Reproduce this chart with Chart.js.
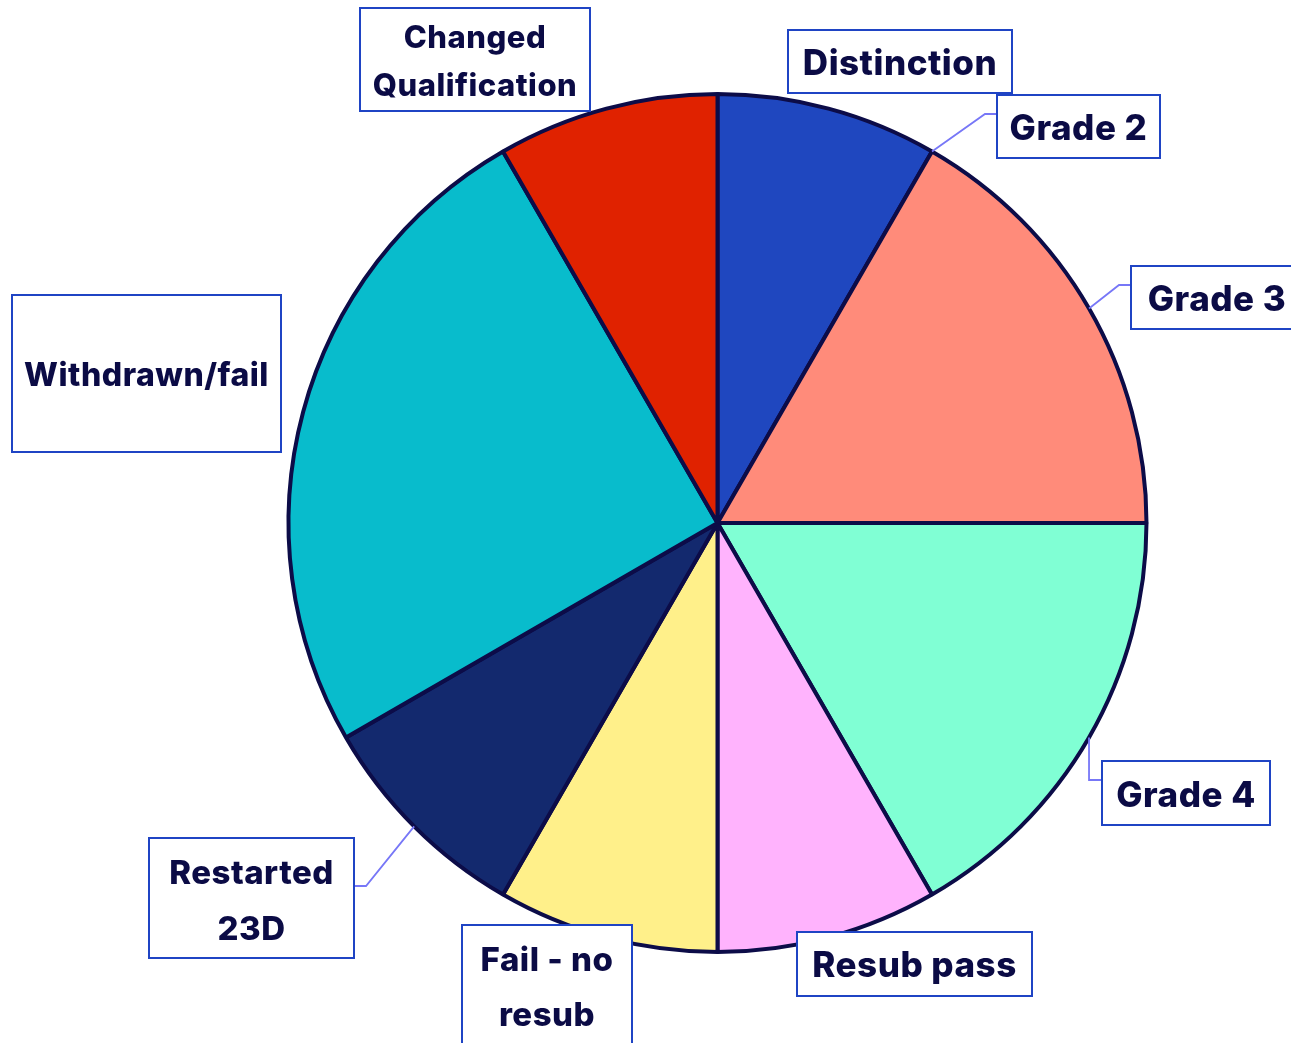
<!DOCTYPE html>
<html>
<head>
<meta charset="utf-8">
<script src="https://cdn.jsdelivr.net/npm/chart.js@4/dist/chart.umd.min.js"></script>
<style>
  html, body { margin: 0; padding: 0; background: #ffffff; }
  #wrap { width: 1291px; height: 1043px; position: relative; }
</style>
</head>
<body>
<div id="wrap"><canvas id="c"></canvas></div>
<script>
// ---- data ----
const categories = ["Distinction", "Grade 2", "Grade 3", "Grade 4", "Resub pass",
  "Fail - no resub", "Restarted 23D", "Withdrawn/fail", "Changed Qualification"];
const counts = [1, 0, 2, 2, 1, 1, 1, 3, 1];
const sliceColors = ["#1f47bf", "#ff8b7a", "#ff8b7a", "#80ffd4", "#ffb3fd",
  "#fff08a", "#13296e", "#08bccc", "#e02200"];

// ---- label box layout (annotation boxes, not data) ----
const labelBoxes = [
  { i: 8, x: 360, y: 8,   w: 230, h: 103, size: 31, lines: ["Changed", "Qualification"], ys: [38, 86] },
  { i: 0, x: 788, y: 30,  w: 224, h: 63,  size: 35, lines: ["Distinction"], ys: [63] },
  { i: 1, x: 997, y: 95,  w: 163, h: 63,  size: 35, lines: ["Grade 2"], ys: [128], leader: [[985, 114], [997, 114]] },
  { i: 2, x: 1131, y: 266, w: 172, h: 63, size: 35, lines: ["Grade 3"], ys: [299], leader: [[1119, 285], [1131, 285]] },
  { i: 3, x: 1102, y: 761, w: 168, h: 64, size: 35, lines: ["Grade 4"], ys: [795], leader: [[null, 780], [1102, 780]] },
  { i: 4, x: 797, y: 932, w: 235, h: 64,  size: 35, lines: ["Resub pass"], ys: [965] },
  { i: 5, x: 462, y: 925, w: 170, h: 130, size: 33, lines: ["Fail - no", "resub"], ys: [960, 1015] },
  { i: 6, x: 149, y: 838, w: 205, h: 120, size: 33, lines: ["Restarted", "23D"], ys: [873, 929], leader: [[366, 886], [354, 886]] },
  { i: 7, x: 12,  y: 295, w: 269, h: 157, size: 32, lines: ["Withdrawn/fail"], ys: [375] }
];

const labelPlugin = {
  id: 'labelBoxes',
  afterDraw(chart) {
    const ctx = chart.ctx;
    const arcs = chart.getDatasetMeta(0).data;
    ctx.save();
    labelBoxes.forEach(b => {
      const arc = arcs[b.i];
      if (b.leader) {
        const mid = (arc.startAngle + arc.endAngle) / 2;
        const ax = arc.x + Math.cos(mid) * arc.outerRadius;
        const ay = arc.y + Math.sin(mid) * arc.outerRadius;
        ctx.beginPath();
        ctx.strokeStyle = '#7777f7';
        ctx.lineWidth = 1.8;
        ctx.moveTo(ax, ay);
        b.leader.forEach(p => ctx.lineTo(p[0] === null ? ax : p[0], p[1]));
        ctx.stroke();
      }
      ctx.fillStyle = '#ffffff';
      ctx.fillRect(b.x, b.y, b.w, b.h);
      ctx.strokeStyle = '#1f44c4';
      ctx.lineWidth = 2;
      ctx.strokeRect(b.x, b.y, b.w, b.h);
      ctx.fillStyle = '#0b0b45';
      ctx.font = `800 ${b.size}px Inter, "Open Sans", sans-serif`;
      ctx.letterSpacing = '0.5px';
      ctx.textAlign = 'center';
      ctx.textBaseline = 'middle';
      b.lines.forEach((t, k) => ctx.fillText(t, b.x + b.w / 2, b.ys[k] + 1));
    });
    ctx.restore();
  }
};

new Chart(document.getElementById('c'), {
  type: 'pie',
  data: {
    labels: categories,
    datasets: [{
      data: counts,
      backgroundColor: sliceColors,
      borderColor: '#0c0c48',
      borderWidth: 4
    }]
  },
  options: {
    responsive: true,
    maintainAspectRatio: false,
    animation: false,
    layout: { padding: { top: 92, bottom: 89, left: 286, right: 142 } },
    plugins: { legend: { display: false }, tooltip: { enabled: false } }
  },
  plugins: [labelPlugin]
});
</script>
</body>
</html>
